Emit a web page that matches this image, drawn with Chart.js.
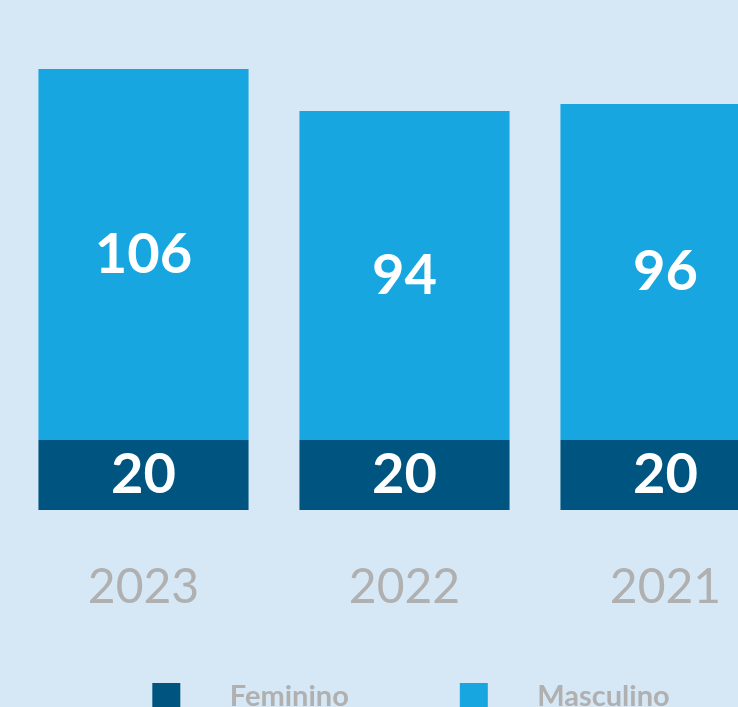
<!DOCTYPE html>
<html>
<head>
<meta charset="utf-8">
<script src="https://cdn.jsdelivr.net/npm/chart.js@4"></script>
<style>
  body { margin: 0; background: #d6e8f5; overflow: hidden; }
  #wrap { position: relative; width: 738px; height: 707px; overflow: hidden; }
  #chart { position: absolute; left: -75px; top: 0; }
</style>
</head>
<body>
<div id="wrap">
  <canvas id="chart" width="871" height="721"></canvas>
</div>
<script>
const years = ['2023', '2022', '2021'];
const feminino = [20, 20, 20];
const masculino = [106, 94, 96];

const colorFem = '#005580';
const colorMasc = '#17a6e0';
const gray = '#b0b0b0';

// legend swatch: a wide transparent box with the square drawn inside it,
// gives the big gap between square and text
function makeSwatch(color) {
    const c = document.createElement('canvas');
    c.width = 164;
    c.height = 28;
    const g = c.getContext('2d');
    g.fillStyle = color;
    g.fillRect(101, 0, 28, 28);
    return c;
}
const swatches = [makeSwatch(colorFem), makeSwatch(colorMasc)];

// white numbers in the middle of every bar segment
const valueLabels = {
    id: 'valueLabels',
    afterDatasetsDraw(chart) {
        const ctx = chart.ctx;
        ctx.save();
        ctx.font = 'bold 56px Lato';
        ctx.fillStyle = '#ffffff';
        ctx.textAlign = 'center';
        ctx.textBaseline = 'middle';
        chart.data.datasets.forEach((ds, i) => {
            chart.getDatasetMeta(i).data.forEach((bar, j) => {
                const { x, y, base } = bar.getProps(['x', 'y', 'base'], true);
                ctx.fillText(ds.data[j], x, (y + base) / 2);
            });
        });
        ctx.restore();
    }
};

function draw() {
    Chart.defaults.font.family = 'Lato';
    new Chart(document.getElementById('chart').getContext('2d'), {
        type: 'bar',
        data: {
            labels: years,
            datasets: [
                { label: 'Feminino', data: feminino, backgroundColor: colorFem },
                { label: 'Masculino', data: masculino, backgroundColor: colorMasc }
            ]
        },
        options: {
            responsive: false,
            animation: false,
            layout: { padding: { left: 0, right: 0, top: 20, bottom: 0 } },
            datasets: { bar: { categoryPercentage: 1, barPercentage: 0.805 } },
            scales: {
                x: {
                    stacked: true,
                    grid: { display: false, drawTicks: false },
                    border: { display: false },
                    ticks: { color: gray, padding: 49, font: { size: 48 } },
                    afterFit: s => { s.height = 162; }
                },
                // empty axis, only keeps the bars clear of the left edge
                y: {
                    stacked: true,
                    min: 0,
                    max: 140,
                    grid: { display: false, drawTicks: false },
                    border: { display: false },
                    ticks: { display: false },
                    afterFit: s => { s.width = 88; }
                }
            },
            plugins: {
                tooltip: { enabled: false },
                legend: {
                    position: 'bottom',
                    labels: {
                        usePointStyle: true,
                        pointStyleWidth: 164,
                        padding: 10,
                        color: gray,
                        font: { size: 29, weight: 'bold' },
                        generateLabels(chart) {
                            const items = Chart.defaults.plugins.legend.labels.generateLabels(chart);
                            items.forEach((it, i) => { it.pointStyle = swatches[i]; });
                            return items;
                        }
                    }
                }
            }
        },
        plugins: [valueLabels]
    });
}

Promise.all([
    document.fonts.load('bold 56px Lato'),
    document.fonts.load('48px Lato')
]).then(draw, draw);
</script>
</body>
</html>
